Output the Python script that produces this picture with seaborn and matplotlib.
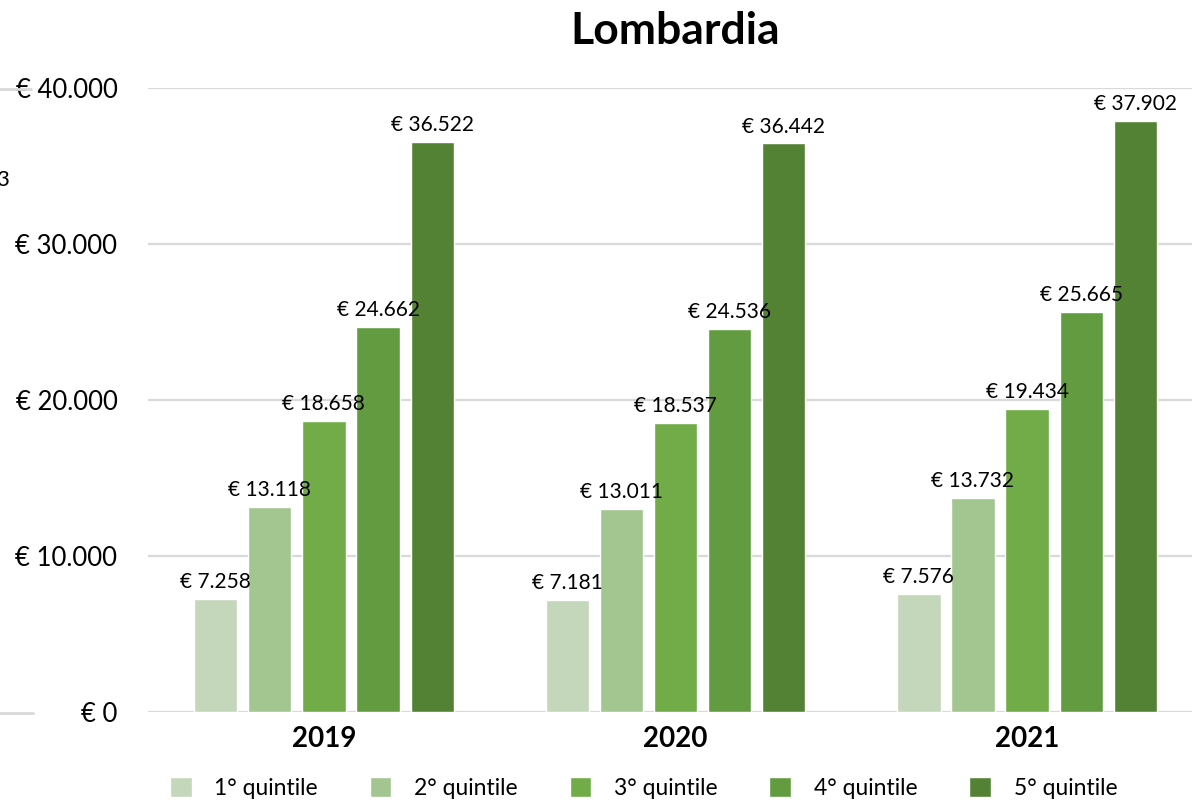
import pandas as pd
import seaborn as sns
import matplotlib.pyplot as plt
from matplotlib.lines import Line2D

# dati
anni = ["2019", "2020", "2021"]
quintili = ["1° quintile", "2° quintile", "3° quintile", "4° quintile", "5° quintile"]
q1 = [7258, 7181, 7576]
q2 = [13118, 13011, 13732]
q3 = [18658, 18537, 19434]
q4 = [24662, 24536, 25665]
q5 = [36522, 36442, 37902]
colori = ["#C5D7BB", "#A3C590", "#71AC48", "#639C40", "#548235"]
yticks = [0, 10000, 20000, 30000, 40000]


def euro(v):
    return "€ " + f"{v:,.0f}".replace(",", ".")


def main():
    rows = []
    for q, vals in zip(quintili, [q1, q2, q3, q4, q5]):
        for a, v in zip(anni, vals):
            rows.append({"anno": a, "quintile": q, "reddito": v})
    df = pd.DataFrame(rows)

    sns.set_style("white")
    plt.rcParams['font.family'] = ['Lato', 'DejaVu Sans']
    plt.rcParams['text.color'] = 'black'
    plt.rcParams['xtick.color'] = 'black'
    plt.rcParams['ytick.color'] = 'black'

    fig = plt.figure(figsize=(11.92, 8.05), dpi=100)
    ax = fig.add_axes([0.1242, 0.1155, 0.885, 0.7752])

    sns.barplot(data=df, x="anno", y="reddito", hue="quintile",
                order=anni, hue_order=quintili, palette=colori,
                width=0.77, gap=0.2, saturation=1, ax=ax)

    for cont in ax.containers:
        ax.bar_label(cont, labels=[euro(b.get_height()) for b in cont],
                     padding=5, fontsize=15, color="black", clip_on=False)

    ax.set_ylim(0, 40000)
    ax.set_xlim(-0.5, 2.5)
    ax.set_yticks(yticks)
    ax.set_yticklabels([euro(v) for v in yticks], fontsize=18.5)
    ax.set_xticks(range(len(anni)))
    ax.set_xticklabels(anni, fontsize=20, fontweight="bold")
    ax.tick_params(axis='y', length=0, pad=22)
    ax.tick_params(axis='x', length=0, pad=10)
    ax.set_xlabel("")
    ax.set_ylabel("")
    ax.grid(axis='y', color="#D9D9D9", linewidth=1.6)
    ax.set_axisbelow(True)
    for s in ax.spines.values():
        s.set_visible(False)

    fig.text(0.5667, 0.961, "Lombardia", ha="center", va="center",
             fontsize=32, fontweight="bold")

    handles, labels = ax.get_legend_handles_labels()
    ax.get_legend().remove()
    fig.legend(handles, labels, loc="center", bbox_to_anchor=(0.540, 0.021),
               ncol=5, frameon=False, fontsize=16.5, handlelength=0.95,
               handleheight=0.95, handletextpad=1.0, columnspacing=2.25)

    # resti del grafico sottostante a sinistra
    fig.add_artist(Line2D([0, 0.026], [0.889, 0.889], color="#D9D9D9", linewidth=2))
    fig.add_artist(Line2D([0, 0.028], [0.114, 0.114], color="#D9D9D9", linewidth=2))
    fig.text(-0.003, 0.776, "3", fontsize=16, ha="left", va="center")

    fig.savefig("out.png", dpi=100)


if __name__ == '__main__':
    main()
